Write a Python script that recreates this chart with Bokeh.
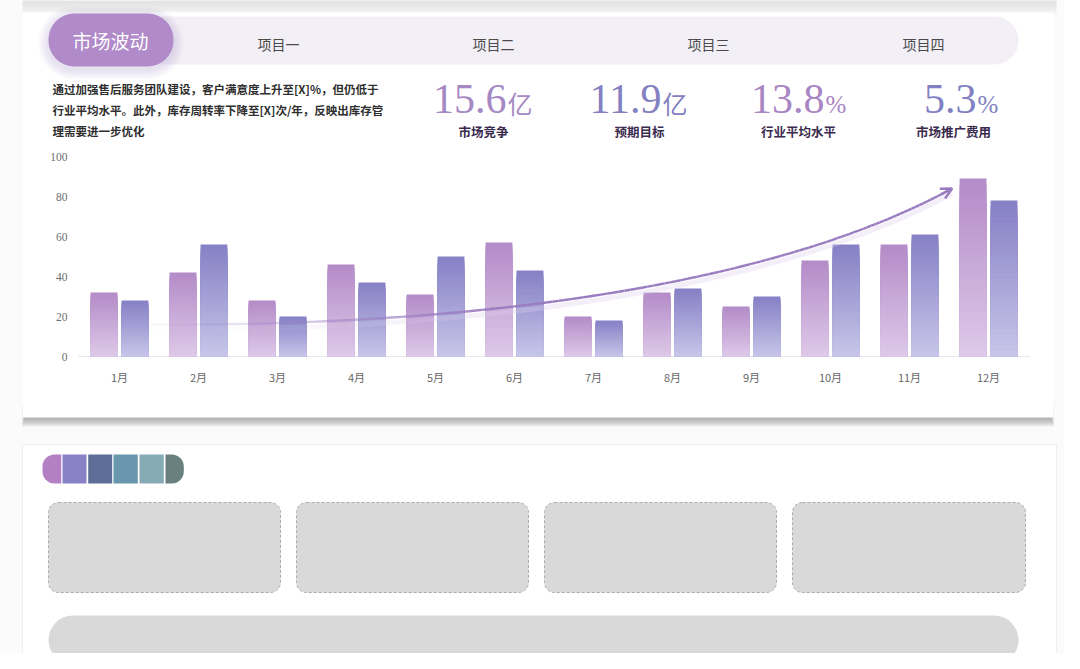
import numpy as np
from bokeh.plotting import figure
from bokeh.models import Range1d, ColumnDataSource, Arrow, OpenHead
from bokeh.core.properties import value
from bokeh.embed import file_html
from bokeh.resources import INLINE

# ---------------- data ----------------
months = ["1月", "2月", "3月", "4月", "5月", "6月", "7月", "8月", "9月", "10月", "11月", "12月"]
series_a = [32, 42, 28, 46, 31, 57, 20, 32, 25, 48, 56, 89]
series_b = [28, 56, 20, 37, 50, 43, 18, 34, 30, 56, 61, 78]
y_ticks = [0, 20, 40, 60, 80, 100]
tabs = ["项目一", "项目二", "项目三", "项目四"]
title = "市场波动"
kpi_values = ["15.6", "11.9", "13.8", "5.3"]
kpi_units = ["亿", "亿", "%", "%"]
kpi_labels = ["市场竞争", "预期目标", "行业平均水平", "市场推广费用"]
desc_lines = [
    "通过加强售后服务团队建设，客户满意度上升至[X]%，但仍低于",
    "行业平均水平。此外，库存周转率下降至[X]次/年，反映出库存管",
    "理需要进一步优化",
]
palette = ["#b380c4", "#8a82c6", "#5e6e99", "#6897ae", "#86abb5", "#6a807e"]
# trend arrow (decoration) control points in chart units
trend_ctrl_x = [1.4, 6.0, 9.5, 11.54]
trend_ctrl_y = [16, 15, 40, 84]

CJK = value("Noto Sans CJK SC")
SERIF = value("Liberation Serif")


def hex2rgb(h):
    h = h.lstrip("#")
    return np.array([int(h[i:i + 2], 16) for i in (0, 2, 4)], dtype=float)


def lerp_colors(c1, c2, n):
    a, b = hex2rgb(c1), hex2rgb(c2)
    out = []
    for t in np.linspace(0, 1, n):
        r, g, bb = (a + (b - a) * t).round().astype(int)
        out.append("#%02x%02x%02x" % (r, g, bb))
    return out


# ---------------- figure ----------------
p = figure(width=1064, height=653, x_range=Range1d(0, 1064), y_range=Range1d(653, 0),
           output_backend="svg", toolbar_location=None, min_border=0,
           x_axis_location=None, y_axis_location=None)
p.grid.visible = False
p.outline_line_color = None
p.background_fill_color = "#fbfbfb"
p.border_fill_color = "#fbfbfb"
p.extra_x_ranges = {"cx": Range1d(-0.5063, 12.962)}
p.extra_y_ranges = {"cy": Range1d(-148.5, 178)}

# top faint band
for k in range(6):
    p.quad(left=22, right=1056, top=-5, bottom=4 + k * 2, fill_color="#d8d8d8",
           fill_alpha=0.12, line_color=None)

# card 1 shadow + card
for k in range(6):
    p.quad(left=24 - k * 0.5, right=1051 + k * 0.5, top=405, bottom=419 + k * 1.4,
           fill_color="#7a7a7a", fill_alpha=0.12, line_color=None)
p.quad(left=22, right=1053, top=12, bottom=417, fill_color="#ffffff", line_color=None)

# card 2
p.quad(left=22, right=1056, top=444, bottom=700, fill_color="#ffffff",
       line_color="#efefef", line_width=1)

# tab bar
p.quad(left=48, right=1018, top=16, bottom=64, fill_color="#f3eff6", line_color=None,
       border_radius=24)

# title pill with soft shadow
for k in range(5):
    e = 2 + k * 2
    p.quad(left=48 - e, right=173 + e, top=13 - e + 3, bottom=66 + e + 3,
           fill_color="#a58cbd", fill_alpha=0.05, line_color=None, border_radius=26 + e)
p.quad(left=48, right=173, top=13, bottom=66, fill_color="#b08ac9", line_color=None,
       border_radius=26)
p.text(x=[110], y=[40], text=[title], text_color="#ffffff", text_font=CJK,
       text_font_size="19px", text_align="center", text_baseline="middle")

# tab labels
tab_x = [278, 493, 708, 923]
p.text(x=tab_x, y=[43] * 4, text=tabs, text_color="#4a4a4a", text_font=CJK,
       text_font_size="14px", text_align="center", text_baseline="middle")

# description
p.text(x=[52] * 3, y=[88, 109, 130], text=desc_lines, text_color="#2e2e2e", text_font=CJK,
       text_font_size="11.5px", text_font_style="bold", text_align="left",
       text_baseline="middle")

# KPIs
num_right = [506, 661, 824, 976]
kpi_colors = ["#a688c3", "#8480c2", "#a985c3", "#827fc3"]
p.text(x=num_right, y=[98] * 4, text=kpi_values, text_color=kpi_colors, text_font=SERIF,
       text_font_size="42px", text_align="right", text_baseline="middle")
unit_src = ColumnDataSource(dict(x=[n + 1 for n in num_right], y=[102, 102, 104, 104],
                                 t=kpi_units, c=kpi_colors,
                                 f=["Noto Sans CJK SC", "Noto Sans CJK SC",
                                    "Liberation Serif", "Liberation Serif"]))
p.text(x="x", y="y", text="t", text_color="c", text_font="f", source=unit_src,
       text_font_size="25px", text_align="left", text_baseline="middle")
p.text(x=[483, 639, 798, 953], y=[131] * 4, text=kpi_labels, text_color="#3a2b4e",
       text_font=CJK, text_font_size="12.5px", text_font_style="bold",
       text_align="center", text_baseline="middle")

# ---------------- bar chart ----------------
idx = np.arange(1, len(months) + 1)
N = 28


def gradient_bars(vals, offset, top_c, bot_c):
    vals = np.asarray(vals, dtype=float)
    cols = lerp_colors(top_c, bot_c, N)
    xs, tops, cs = [], [], []
    for k in range(N):
        frac = 1 - k / N
        xs.extend(idx + offset)
        tops.extend(vals * frac)
        cs.extend([cols[k]] * len(vals))
    src = ColumnDataSource(dict(x=xs, top=tops, c=cs))
    p.vbar(x="x", top="top", bottom=0, width=0.34, fill_color="c", line_color=None,
           source=src, x_range_name="cx", y_range_name="cy")


p.segment(x0=[0.48], y0=[0], x1=[12.53], y1=[0], line_color="#e8e6ec", line_width=1,
          x_range_name="cx", y_range_name="cy")
gradient_bars(series_a, -0.196, "#b48cc8", "#ddc8e8")
gradient_bars(series_b, 0.196, "#8781c6", "#c6c4e8")

# axis labels
p.text(x=[0.342] * len(y_ticks), y=y_ticks, text=[str(v) for v in y_ticks],
       text_color="#6e6e6e", text_font=SERIF, text_font_size="11.5px",
       text_align="right", text_baseline="middle", x_range_name="cx", y_range_name="cy")
p.text(x=idx, y=[-10] * len(months), text=months, text_color="#666666", text_font=CJK,
       text_font_size="11px", text_align="center", text_baseline="middle",
       x_range_name="cx", y_range_name="cy")

# trend curve
t = np.linspace(0, 1, 140)
B = np.array([(1 - t) ** 3, 3 * (1 - t) ** 2 * t, 3 * (1 - t) * t ** 2, t ** 3])
cx_pts = np.array(trend_ctrl_x) @ B
cy_pts = np.array(trend_ctrl_y) @ B
ramp = np.clip((t[:-1] - 0.0) / 0.35, 0.08, 1.0)
seg_x = [[cx_pts[i], cx_pts[i + 1]] for i in range(len(t) - 1)]
seg_y = [[cy_pts[i], cy_pts[i + 1]] for i in range(len(t) - 1)]
seg_yg = [[cy_pts[i] - 2.4, cy_pts[i + 1] - 2.4] for i in range(len(t) - 1)]
p.multi_line(xs=seg_x, ys=seg_yg, line_color="#dccfea", line_width=5,
             line_alpha=ramp * 0.35, x_range_name="cx", y_range_name="cy")
p.multi_line(xs=seg_x, ys=seg_y, line_color="#9a7cc0", line_width=2.4, line_alpha=ramp,
             x_range_name="cx", y_range_name="cy")
p.add_layout(Arrow(end=OpenHead(size=11, line_color="#9a7cc0", line_width=2.4),
                   x_start=cx_pts[-4], y_start=cy_pts[-4], x_end=cx_pts[-1], y_end=cy_pts[-1],
                   line_color="#9a7cc0", line_width=2.4,
                   x_range_name="cx", y_range_name="cy"))

# ---------------- lower card ----------------
sw_left = [42, 62, 87.7, 113, 139, 165]
sw_right = [60.7, 86, 111.7, 137.3, 163.3, 183.3]
radii = [(12, 0, 0, 12), 0, 0, 0, 0, (0, 12, 12, 0)]
for i, col in enumerate(palette):
    p.quad(left=sw_left[i], right=sw_right[i], top=454, bottom=483, fill_color=col,
           line_color=None, border_radius=radii[i])

box_l = [48, 296, 544, 792]
box_r = [280, 528, 776, 1025]
p.quad(left=box_l, right=box_r, top=502, bottom=592, fill_color="#d9d9d9",
       line_color="#ababab", line_dash="3 2", line_width=1, border_radius=10)
p.quad(left=48, right=1018, top=615, bottom=664, fill_color="#d9d9d9", line_color=None,
       border_radius=25)

open("out.html", "w").write(file_html(p, INLINE))
